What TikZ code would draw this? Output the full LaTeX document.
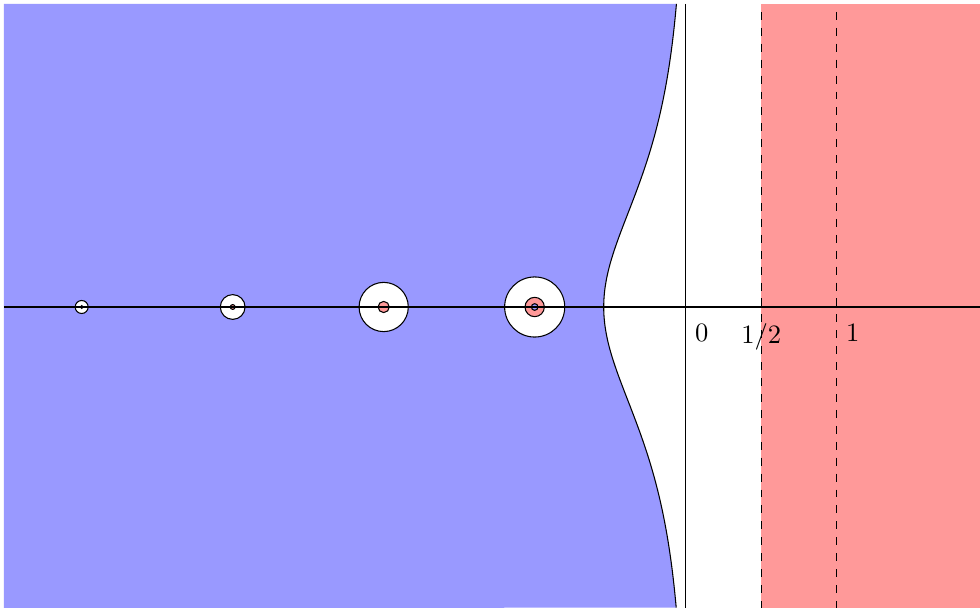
\documentclass[tikz,border=0pt]{standalone}
\begin{document}
\begin{tikzpicture}[x=2cm,y=2cm,
  hole/.style={draw=black,fill=white,line width=0.4pt},
  redspot/.style={draw=black,fill=red!40,line width=0.4pt},
  bluespot/.style={draw=black,fill=blue!40,line width=0.4pt},
  guide/.style={draw=black,dashed,dash phase=3pt,line width=0.4pt},
  axislbl/.style={inner sep=0.3333em}]
\useasboundingbox (-4.541,-1.993) rectangle (1.949,2.033);
% red half-plane
\fill[red!40] (0.5,2.007) rectangle (1.949,-1.993);
% blue region
\fill[blue!40] (-4.515,2.007) -- plot[domain=2.007:-1.993,samples=160,variable=\t,smooth] ({-0.543/cosh(1.43*\t)},\t) -- (-4.515,-1.993) -- cycle;
\draw[line width=0.4pt] plot[domain=2.007:-1.993,samples=160,variable=\t,smooth] ({-0.543/cosh(1.43*\t)},\t);
% circles
\draw[hole] (-1,0) circle (0.199);
\draw[redspot] (-1,0) circle (0.064);
\draw[bluespot] (-1,0) circle (0.022);
\draw[hole] (-2,0) circle (0.163);
\draw[redspot] (-2,0) circle (0.037);
\draw[hole] (-3,0) circle (0.082);
\draw[redspot] (-3,0) circle (0.016);
\draw[hole] (-4,0) circle (0.043);
\draw[redspot] (-4,0) circle (0.009);
% axes
\draw[line width=0.4pt] (-4.515,0) -- (1.949,0);
\draw[line width=0.4pt] (0,2.007) -- (0,-1.993);
% labels
\node[axislbl,anchor=north west] (l0) at (0,-0.05) {$0$};
\node[axislbl,anchor=north] (lh) at (0.5,-0.05) {$1/2$};
\node[axislbl,anchor=north west] (l1) at (1,-0.05) {$1$};
% dashed guides
\draw[guide] (0.5,2.007) -- (0.5,-1.993);
\draw[guide] (1,2.007) -- (1,-1.993);
\end{tikzpicture}
\end{document}
